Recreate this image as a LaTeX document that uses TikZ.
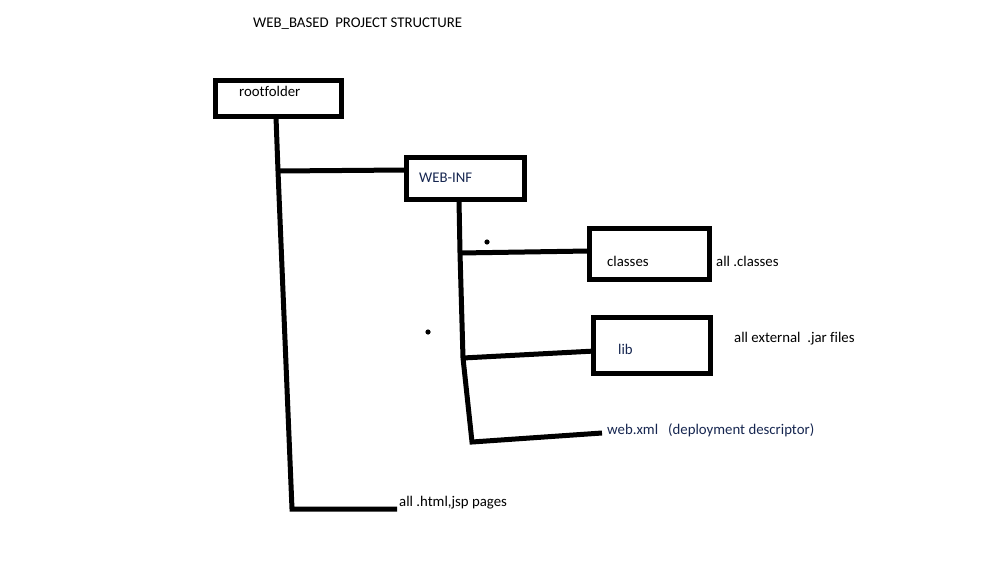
\documentclass[tikz,border=0pt]{standalone}
\usepackage{fontspec}
\setmainfont{Carlito}[Ligatures=NoCommon]
\definecolor{navytext}{RGB}{22,38,80}
\begin{document}
\begin{tikzpicture}[x=1pt,y=-1pt,
  folder/.style={draw=black,line width=5pt,inner sep=0pt,outer sep=0pt},
  lbl/.style={anchor=base west,inner sep=0pt,font=\fontsize{14.8}{17}\selectfont,text=black},
  bluelbl/.style={lbl,text=navytext},
  wire/.style={draw=black,line width=5pt}]
\useasboundingbox (0,0) rectangle (1000,561);
% title
\node[lbl] (title) at (253,28) {WEB\_BASED\ \ PROJECT STRUCTURE};
% boxes
\node[folder,minimum width=126pt,minimum height=36pt] (root) at (278,99) {};
\node[folder,minimum width=118pt,minimum height=42pt] (webinf) at (465.5,178.5) {};
\node[folder,minimum width=120pt,minimum height=51pt] (classes) at (649.5,254) {};
\node[folder,minimum width=117pt,minimum height=56pt] (lib) at (652,345.5) {};
% box labels
\node[lbl] (rootlbl) at (239,97) {rootfolder};
\node[bluelbl] (webinflbl) at (419,183) {WEB-INF};
\node[lbl] (classeslbl) at (607,266) {classes};
\node[bluelbl] (liblbl) at (618,354) {lib};
% side labels
\node[lbl] (allclasses) at (716,266) {all .classes};
\node[lbl] (alljar) at (734,342) {all external\ \ .jar files};
\node[bluelbl] (webxml) at (607,434) {web.xml\ \ \ (deployment descriptor)};
\node[lbl] (allhtml) at (399,506) {all .html,jsp pages};
% junctions
\coordinate (r0) at (276,117);
\coordinate (j1) at (278,171);
\coordinate (c1) at (292,509);
\coordinate (e1) at (397,509);
\coordinate (w0) at (459,200);
\coordinate (j2) at (460,253);
\coordinate (j3) at (463,358);
\coordinate (c2) at (472,442);
\coordinate (e2) at (602,433);
\coordinate (cl) at (589,251);
\coordinate (li) at (595,351);
\coordinate (wi) at (406,170);
% connectors
\draw[wire] (r0) -- (j1) -- (c1) -- (e1);
\draw[wire] (j1) -- (wi);
\draw[wire] (w0) -- (j2) -- (j3) -- (c2) -- (e2);
\draw[wire] (j2) -- (cl);
\draw[wire] (j3) -- (li);
% stray dots
\fill (487,242) circle (2.6pt);
\fill (428,332) circle (2.6pt);
\end{tikzpicture}
\end{document}
